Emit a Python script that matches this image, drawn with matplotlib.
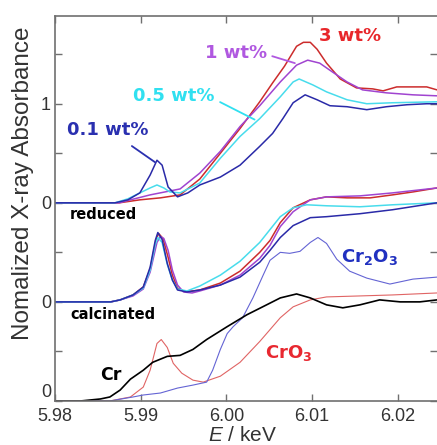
import matplotlib
matplotlib.use("Agg")
import matplotlib.pyplot as plt

plt.rcParams["font.family"] = "Liberation Sans"
plt.rcParams["mathtext.fontset"] = "custom"
plt.rcParams["mathtext.rm"] = "Liberation Sans"
plt.rcParams["mathtext.it"] = "Liberation Sans:italic"
plt.rcParams["mathtext.bf"] = "DejaVu Sans:bold"

# ---- reduced samples (normalized) ----
red01_E = [5.9800, 5.9870, 5.9885, 5.9899, 5.9911, 5.9919, 5.9925, 5.9932, 5.9943, 5.9955,
           5.9969, 5.9993, 6.0016, 6.0039, 6.0054, 6.0066, 6.0078, 6.0092, 6.0106, 6.0121,
           6.0141, 6.0164, 6.0187, 6.0211, 6.0234, 6.0246]
red01_y = [0.00, 0.00, 0.03, 0.10, 0.28, 0.43, 0.38, 0.16, 0.06, 0.10,
           0.18, 0.26, 0.38, 0.57, 0.70, 0.85, 1.01, 1.09, 1.04, 0.98,
           0.97, 0.94, 0.97, 0.99, 1.00, 1.00]

red05_E = [5.9800, 5.9870, 5.9885, 5.9899, 5.9911, 5.9919, 5.9927, 5.9934, 5.9946, 5.9969,
           5.9993, 6.0016, 6.0039, 6.0063, 6.0078, 6.0085, 6.0101, 6.0117, 6.0141, 6.0164,
           6.0194, 6.0246]
red05_y = [0.00, 0.00, 0.04, 0.10, 0.15, 0.18, 0.15, 0.11, 0.10, 0.20,
           0.45, 0.67, 0.85, 1.07, 1.22, 1.25, 1.19, 1.12, 1.04, 1.00,
           1.01, 1.02]

red1_E = [5.9800, 5.9875, 5.9888, 5.9911, 5.9946, 5.9969, 5.9993, 6.0016, 6.0039, 6.0063,
          6.0082, 6.0095, 6.0109, 6.0124, 6.0141, 6.0159, 6.0187, 6.0218, 6.0246]
red1_y = [0.00, 0.00, 0.03, 0.08, 0.14, 0.30, 0.52, 0.77, 0.98, 1.22,
          1.39, 1.44, 1.41, 1.32, 1.22, 1.14, 1.11, 1.09, 1.08]

red3_E = [5.9800, 5.9875, 5.9899, 5.9923, 5.9946, 5.9969, 5.9993, 6.0016, 6.0039, 6.0054,
          6.0068, 6.0082, 6.0090, 6.0098, 6.0106, 6.0117, 6.0133, 6.0152, 6.0171, 6.0183,
          6.0199, 6.0216, 6.0234, 6.0246]
red3_y = [0.00, 0.00, 0.03, 0.05, 0.08, 0.24, 0.50, 0.75, 1.02, 1.21,
          1.38, 1.58, 1.62, 1.62, 1.55, 1.41, 1.25, 1.16, 1.15, 1.13,
          1.17, 1.17, 1.17, 1.14]

# ---- calcinated samples (normalized) ----
cal01_E = [5.9800, 5.9865, 5.9876, 5.9891, 5.9903, 5.9911, 5.9917, 5.9920, 5.9925, 5.9931,
           5.9937, 5.9943, 5.9954, 5.9969, 5.9993, 6.0016, 6.0039, 6.0051, 6.0063, 6.0078,
           6.0098, 6.0117, 6.0156, 6.0194, 6.0246]
cal01_y = [0.00, 0.00, 0.02, 0.07, 0.15, 0.35, 0.62, 0.70, 0.63, 0.39,
           0.22, 0.12, 0.10, 0.12, 0.17, 0.25, 0.40, 0.52, 0.65, 0.77,
           0.85, 0.86, 0.89, 0.93, 1.00]

cal05_E = [5.9800, 5.9865, 5.9876, 5.9891, 5.9903, 5.9911, 5.9917, 5.9920, 5.9925, 5.9931,
           5.9937, 5.9943, 5.9954, 5.9969, 5.9993, 6.0016, 6.0039, 6.0063, 6.0078, 6.0094,
           6.0117, 6.0156, 6.0194, 6.0246]
cal05_y = [0.00, 0.00, 0.02, 0.07, 0.14, 0.32, 0.58, 0.65, 0.60, 0.38,
           0.22, 0.13, 0.11, 0.16, 0.27, 0.41, 0.60, 0.86, 0.95, 0.98,
           0.97, 0.96, 0.98, 1.00]

cal1_E = [5.9800, 5.9865, 5.9876, 5.9891, 5.9903, 5.9911, 5.9919, 5.9923, 5.9927, 5.9932,
          5.9937, 5.9943, 5.9950, 5.9960, 5.9969, 5.9993, 6.0016, 6.0039, 6.0051, 6.0063,
          6.0078, 6.0098, 6.0117, 6.0156, 6.0194, 6.0246]
cal1_y = [0.00, 0.00, 0.02, 0.06, 0.13, 0.30, 0.60, 0.66, 0.64, 0.52,
          0.32, 0.17, 0.10, 0.09, 0.11, 0.17, 0.27, 0.44, 0.57, 0.76,
          0.91, 1.03, 1.06, 1.07, 1.10, 1.15]

cal3_E = [5.9800, 5.9865, 5.9876, 5.9891, 5.9903, 5.9911, 5.9918, 5.9921, 5.9926, 5.9932,
          5.9937, 5.9943, 5.9952, 5.9969, 5.9993, 6.0016, 6.0039, 6.0051, 6.0063, 6.0078,
          6.0098, 6.0117, 6.0141, 6.0168, 6.0194, 6.0218, 6.0246]
cal3_y = [0.00, 0.00, 0.02, 0.07, 0.15, 0.33, 0.63, 0.69, 0.64, 0.45,
          0.27, 0.14, 0.10, 0.12, 0.19, 0.31, 0.50, 0.62, 0.80, 0.95,
          1.03, 1.06, 1.05, 1.05, 1.08, 1.11, 1.15]

# ---- references ----
cr_E = [5.9800, 5.9830, 5.9853, 5.9864, 5.9876, 5.9888, 5.9903, 5.9914, 5.9931, 5.9946,
        5.9961, 5.9977, 6.0001, 6.0024, 6.0047, 6.0063, 6.0082, 6.0098, 6.0117, 6.0136,
        6.0156, 6.0179, 6.0203, 6.0226, 6.0246]
cr_y = [0.00, 0.00, 0.02, 0.04, 0.11, 0.22, 0.31, 0.39, 0.45, 0.46,
        0.52, 0.62, 0.75, 0.87, 0.97, 1.04, 1.08, 1.04, 0.97, 0.94,
        0.97, 1.02, 1.00, 1.00, 1.02]

cro3_E = [5.9800, 5.9864, 5.9888, 5.9891, 5.9903, 5.9911, 5.9919, 5.9924, 5.9931, 5.9938,
          5.9948, 5.9961, 5.9973, 5.9993, 6.0016, 6.0039, 6.0063, 6.0078, 6.0098, 6.0117,
          6.0156, 6.0194, 6.0246]
cro3_y = [0.00, 0.00, 0.04, 0.06, 0.14, 0.31, 0.58, 0.62, 0.54, 0.38,
          0.28, 0.21, 0.19, 0.25, 0.39, 0.60, 0.84, 0.95, 1.02, 1.05,
          1.06, 1.07, 1.09]

cr2o3_E = [5.9800, 5.9864, 5.9891, 5.9903, 5.9923, 5.9943, 5.9961, 5.9977, 5.9984, 5.9993,
           6.0001, 6.0008, 6.0019, 6.0031, 6.0043, 6.0051, 6.0063, 6.0074, 6.0086, 6.0098,
           6.0107, 6.0117, 6.0129, 6.0144, 6.0164, 6.0191, 6.0218, 6.0246]
cr2o3_y = [0.00, 0.00, 0.04, 0.06, 0.08, 0.13, 0.16, 0.19, 0.31, 0.52,
           0.68, 0.75, 0.84, 1.04, 1.27, 1.42, 1.50, 1.49, 1.51, 1.60,
           1.65, 1.59, 1.43, 1.31, 1.24, 1.18, 1.23, 1.25]

x_ticks = [5.98, 5.99, 6.00, 6.01, 6.02]
y_ticks = [0, 0.5, 1, 1.5, 2, 2.5, 3, 3.5]
y_tick_labels = ["0", "", "0", "", "0", "", "1", ""]

C_RED, C_PUR, C_CYA, C_BLU = "#cc2c2c", "#a044d0", "#48dcec", "#2a2aa8"

fig = plt.figure(figsize=(4.37, 4.45), dpi=100)
ax = fig.add_axes([0.126, 0.099, 0.874, 0.866])

off_red, off_cal = 2, 1
for E, y, c in [(red3_E, red3_y, C_RED), (red1_E, red1_y, C_PUR),
                (red05_E, red05_y, C_CYA), (red01_E, red01_y, C_BLU)]:
    ax.plot(E, [v + off_red for v in y], color=c, lw=1.1)
for E, y, c in [(cal3_E, cal3_y, C_RED), (cal1_E, cal1_y, C_PUR),
                (cal05_E, cal05_y, C_CYA), (cal01_E, cal01_y, C_BLU)]:
    ax.plot(E, [v + off_cal for v in y], color=c, lw=1.1)

ax.plot(cro3_E, cro3_y, color="#e06464", lw=0.8)
ax.plot(cr2o3_E, cr2o3_y, color="#6464d4", lw=0.8)
ax.plot(cr_E, cr_y, color="black", lw=1.2)

ax.set_xlim(5.98, 6.0246)
ax.set_ylim(0, 3.89)
ax.set_xticks(x_ticks)
ax.set_xticklabels([f"{t:.2f}" for t in x_ticks])
ax.set_yticks(y_ticks)
ax.set_yticklabels(y_tick_labels)
ax.tick_params(direction="in", length=5, width=1, color="#707070",
               labelsize=13, labelcolor="#333333", top=True, right=True)
ax.tick_params(axis="x", pad=5)
ax.tick_params(axis="y", pad=3)
ax.get_yticklabels()[0].set_verticalalignment("bottom")
for s in ["left", "bottom", "top"]:
    ax.spines[s].set_color("#707070")
    ax.spines[s].set_linewidth(1.2)
ax.spines["right"].set_visible(False)

ax.set_xlabel(r"$\it{E}$ / keV", fontsize=15, color="#333333")
ax.xaxis.set_label_coords(0.492, -0.066)
ax.set_ylabel("Nomalized X-ray Absorbance", fontsize=17.5, color="#333333")
ax.yaxis.set_label_coords(-0.055, 0.565)

bold = dict(family="DejaVu Sans", fontweight="bold")
ax.annotate("0.1 wt%", xy=(5.99167, 2.41), xytext=(5.9862, 2.74), color="#2a30b0",
            fontsize=13, ha="center", va="center", **bold,
            arrowprops=dict(arrowstyle="-", color="#2a30b0", lw=1.3, shrinkA=6, shrinkB=0))
ax.annotate("0.5 wt%", xy=(6.0033, 2.84), xytext=(5.9939, 3.08), color="#30e0f0",
            fontsize=13, ha="center", va="center", **bold,
            arrowprops=dict(arrowstyle="-", color="#30e0f0", lw=1.3, shrinkA=2, shrinkB=0,
                            relpos=(1.0, 0.3)))
ax.annotate("1 wt%", xy=(6.0080, 3.41), xytext=(6.0011, 3.515), color="#b058e0",
            fontsize=13, ha="center", va="center", **bold,
            arrowprops=dict(arrowstyle="-", color="#b058e0", lw=1.3, shrinkA=2, shrinkB=0,
                            relpos=(1.0, 0.4)))
ax.text(6.0144, 3.68, "3 wt%", color="#e8262a", fontsize=13, ha="center", va="center", **bold)
ax.text(5.98175, 1.88, "reduced", color="black", fontsize=10.5, ha="left", va="center", **bold)
ax.text(5.98175, 0.87, "calcinated", color="black", fontsize=10.5, ha="left", va="center", **bold)
ax.text(5.9865, 0.26, "Cr", color="black", fontsize=12.5, ha="center", va="center", **bold)
ax.text(6.0167, 1.45, r"Cr$_\mathbf{2}$O$_\mathbf{3}$", color="#2030c0", fontsize=13,
        ha="center", va="center", **bold)
ax.text(6.0073, 0.485, r"CrO$_\mathbf{3}$", color="#e82830", fontsize=13,
        ha="center", va="center", **bold)

fig.savefig("out.png", dpi=100)
